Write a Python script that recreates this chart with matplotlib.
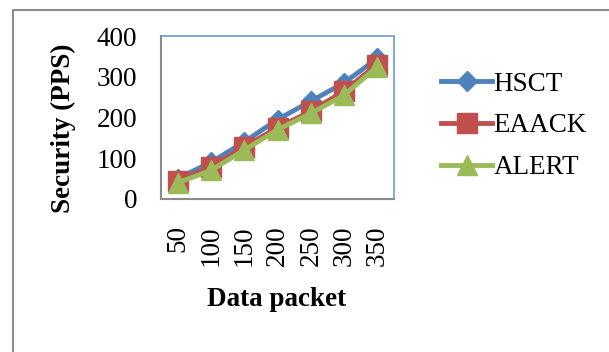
import matplotlib.pyplot as plt
from matplotlib.lines import Line2D

# data
packets = ["50", "100", "150", "200", "250", "300", "350"]
hsct = [50, 90, 140, 195, 240, 285, 345]
eaack = [45, 78, 128, 175, 215, 265, 330]
alert = [40, 70, 120, 170, 210, 255, 325]

plt.rcParams["font.family"] = ["Liberation Serif", "DejaVu Serif"]

fig = plt.figure(figsize=(6.09, 3.52), dpi=100)
ax = fig.add_axes([161 / 609, 1 - 199 / 352, 233 / 609, 163 / 352])

x = range(len(packets))
ax.plot(x, hsct, color="#4F81BD", mec="#4F81BD", lw=3.5, marker="D", ms=10, label="HSCT")
ax.plot(x, eaack, color="#C0504D", mec="#C0504D", lw=3.5, marker="s", ms=14, label="EAACK")
ax.plot(x, alert, color="#9BBB59", mec="#9BBB59", lw=3.5, marker="^", ms=15, label="ALERT")

ax.set_xlim(-0.5, len(packets) - 0.5)
ax.set_ylim(0, 400)
ax.set_yticks([0, 100, 200, 300, 400])
ax.set_xticks(list(x))
ax.set_xticklabels(packets, rotation=90)
ax.tick_params(axis="both", length=0, labelsize=19.5)
ax.tick_params(axis="y", pad=17)
ax.tick_params(axis="x", pad=19)

# plot area border
for s in ("left", "bottom"):
    ax.spines[s].set_color("#8A8A8A")
    ax.spines[s].set_linewidth(1.5)
for s in ("top", "right"):
    ax.spines[s].set_color("#6A9BD1")
    ax.spines[s].set_linewidth(1.2)

fig.text(277 / 609, 1 - 300 / 352, "Data packet", ha="center", va="center",
         fontsize=19.5, fontweight="bold")
fig.text(63 / 609, 1 - 128 / 352, "Security (PPS)", ha="center", va="center",
         rotation=90, fontsize=19.5, fontweight="bold")

ax.legend(loc="center left", bbox_to_anchor=(430 / 609, 1 - 126 / 352),
          bbox_transform=fig.transFigure, frameon=False, fontsize=19.5,
          handlelength=1.9, handletextpad=0.05, labelspacing=0.62,
          borderaxespad=0)

# chart area border
fig.add_artist(Line2D([13 / 609, 13 / 609, 1.0], [0, 1 - 10 / 352, 1 - 10 / 352],
                      color="#8C8C8C", lw=1.5))

fig.savefig("out.png", dpi=100)
